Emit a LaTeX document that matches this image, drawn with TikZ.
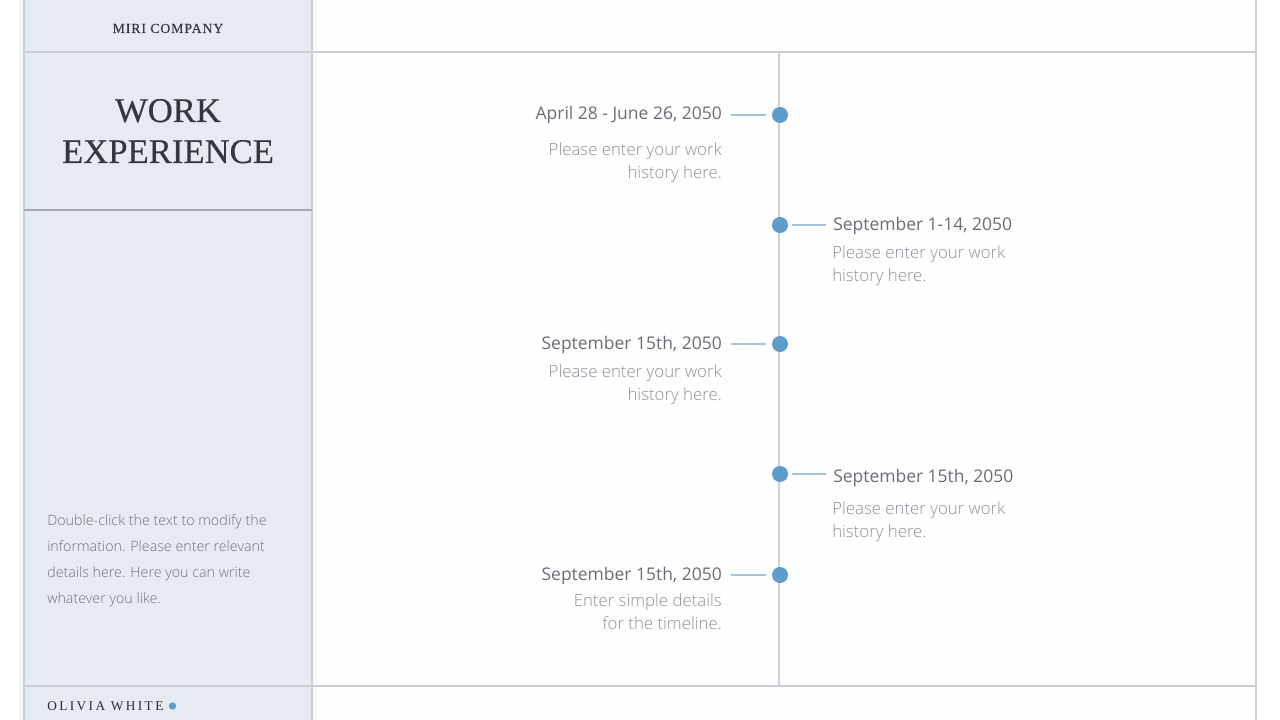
\documentclass[tikz,border=0pt]{standalone}
\usepackage{fontspec}
\setmainfont{Liberation Serif}
\newfontfamily\osans{Open Sans}
\newfontfamily\oslight{Open Sans Light}
\definecolor{panel}{HTML}{E6EAF1}
\definecolor{rulegray}{HTML}{CACDD3}
\definecolor{darkrule}{HTML}{A6A9B0}
\definecolor{dotblue}{HTML}{5E9CC9}
\definecolor{linkblue}{HTML}{A3C4DE}
\definecolor{axisgray}{HTML}{CCD0D6}
\definecolor{datetxt}{HTML}{6A6D74}
\definecolor{bodytxt}{HTML}{8C9097}
\definecolor{titletxt}{HTML}{34373D}
\tikzset{
  datel/.style={anchor=base east, inner sep=0pt, font=\osans\fontsize{13.1}{15}\selectfont, text=datetxt},
  dater/.style={anchor=base west, inner sep=0pt, font=\osans\fontsize{13.1}{15}\selectfont, text=datetxt},
  bodyl/.style={anchor=base east, inner sep=0pt, font=\oslight\fontsize{12.6}{15}\selectfont, text=bodytxt},
  bodyr/.style={anchor=base west, inner sep=0pt, font=\oslight\fontsize{12.6}{15}\selectfont, text=bodytxt},
  side/.style={anchor=base west, inner sep=0pt, font=\oslight\fontsize{10.7}{12}\selectfont, text=bodytxt!80!black},
  tdot/.style={circle, fill=dotblue, minimum size=12pt, inner sep=0pt},
  link/.style={draw=linkblue, line width=1.1pt},
  frame/.style={draw=rulegray, line width=1pt},
}
\begin{document}
\begin{tikzpicture}[x=0.75pt, y=-0.75pt]
\useasboundingbox (0,0) rectangle (1280,720);
\fill[white] (0,0) rectangle (1280,720);
\fill[white!98!panel] (312,0) rectangle (1256,720);
% shadow of the panel
\fill[black!4] (19,0) rectangle (24,720);
\fill[black!3] (312,0) rectangle (318,720);
\fill[panel] (24,0) rectangle (312,720);
% frame lines
\draw[frame] (24,0) -- (24,720);
\draw[frame] (312,0) -- (312,720);
\draw[frame] (1256,0) -- (1256,720);
\draw[frame] (24,52) -- (1256,52);
\draw[frame] (24,686) -- (1256,686);
\draw[draw=darkrule, line width=1.3pt] (24,210) -- (312,210);
% timeline axis
\coordinate (top) at (779,52);
\coordinate (bot) at (779,686);
\draw[draw=axisgray, line width=1.3pt] (top) -- (bot);

% left panel texts
\node[anchor=base, inner sep=0pt, font=\fontsize{10.4}{12}\selectfont\addfontfeature{LetterSpace=6,FakeBold=0.3}, text=titletxt] (company) at (168,33) {MIRI COMPANY};
\node[anchor=base, inner sep=0pt, font=\fontsize{26}{30}\selectfont\addfontfeature{FakeBold=0.4}, text=titletxt] (t1) at (168,122) {WORK};
\node[anchor=base, inner sep=0pt, font=\fontsize{26}{30}\selectfont\addfontfeature{FakeBold=0.4}, text=titletxt] (t2) at (168,163) {EXPERIENCE};
\node[side] (s1) at (47,525) {Double-click the text to modify the};
\node[side] (s2) at (47,551) {information. Please enter relevant};
\node[side] (s3) at (47,577) {details here. Here you can write};
\node[side] (s4) at (47,603) {whatever you like.};
\node[anchor=base west, inner sep=0pt, font=\fontsize{10}{12}\selectfont\addfontfeature{LetterSpace=18}, text=titletxt!80!black] (name) at (47,710) {OLIVIA WHITE};
\node[circle, fill=dotblue, minimum size=5.5pt, inner sep=0pt] (namedot) at (172.5,706) {};

% timeline dots
\node[tdot] (d1) at (780,115) {};
\node[tdot] (d2) at (780,225) {};
\node[tdot] (d3) at (780,344) {};
\node[tdot] (d4) at (780,474) {};
\node[tdot] (d5) at (780,575) {};
\coordinate (c1) at (731,115);
\coordinate (c2) at (826,225);
\coordinate (c3) at (731,344);
\coordinate (c4) at (826,474);
\coordinate (c5) at (731,575);
\draw[link] (c1) -- ([xshift=-10.5pt]d1.center);
\draw[link] ([xshift=9pt]d2.center) -- (c2);
\draw[link] (c3) -- ([xshift=-10.5pt]d3.center);
\draw[link] ([xshift=9pt]d4.center) -- (c4);
\draw[link] (c5) -- ([xshift=-10.5pt]d5.center);

% item 1
\node[datel] (e1) at (722,120) {April 28 - June 26, 2050};
\node[bodyl] (b1a) at (722,156) {Please enter your work};
\node[bodyl] (b1b) at (722,179) {history here.};
% item 2
\node[dater] (e2) at (833,230) {September 1-14, 2050};
\node[bodyr] (b2a) at (832,258) {Please enter your work};
\node[bodyr] (b2b) at (832,281) {history here.};
% item 3
\node[datel] (e3) at (722,349) {September 15th, 2050};
\node[bodyl] (b3a) at (722,377) {Please enter your work};
\node[bodyl] (b3b) at (722,400) {history here.};
% item 4
\node[dater] (e4) at (833,482) {September 15th, 2050};
\node[bodyr] (b4a) at (832,514) {Please enter your work};
\node[bodyr] (b4b) at (832,537) {history here.};
% item 5
\node[datel] (e5) at (722,580) {September 15th, 2050};
\node[bodyl] (b5a) at (722,606) {Enter simple details};
\node[bodyl] (b5b) at (722,629) {for the timeline.};
\end{tikzpicture}
\end{document}
